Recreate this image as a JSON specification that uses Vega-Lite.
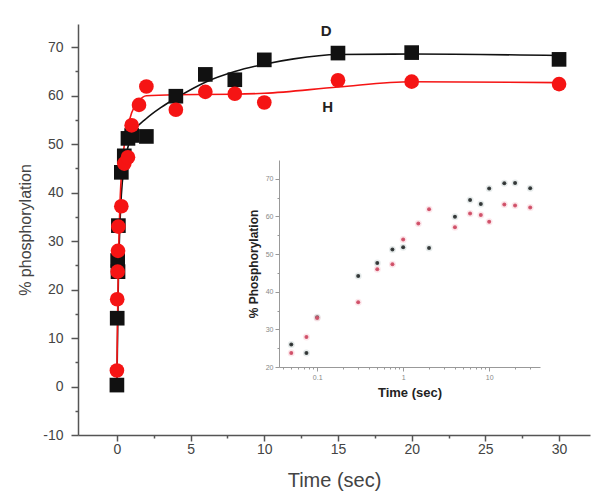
{
  "$schema": "https://vega.github.io/schema/vega-lite/v6.json",
  "width": 512,
  "height": 411,
  "autosize": {"type": "none"},
  "padding": {"left": 78, "top": 24, "right": 11, "bottom": 66},
  "background": "white",
  "config": {
    "view": {"stroke": null},
    "font": "Liberation Sans",
    "axis": {"grid": false}
  },
  "datasets": {
    "points": [
      {"series": "D", "t": 0, "v": 0.3},
      {"series": "D", "t": 0.02, "v": 14.1},
      {"series": "D", "t": 0.05, "v": 26.0},
      {"series": "D", "t": 0.075, "v": 23.7},
      {"series": "D", "t": 0.1, "v": 33.2},
      {"series": "D", "t": 0.3, "v": 44.2},
      {"series": "D", "t": 0.5, "v": 47.6},
      {"series": "D", "t": 0.75, "v": 51.2},
      {"series": "D", "t": 1, "v": 51.8},
      {"series": "D", "t": 2, "v": 51.6},
      {"series": "D", "t": 4, "v": 59.9},
      {"series": "D", "t": 6, "v": 64.4},
      {"series": "D", "t": 8, "v": 63.3},
      {"series": "D", "t": 10, "v": 67.4},
      {"series": "D", "t": 15, "v": 68.8},
      {"series": "D", "t": 20, "v": 68.9},
      {"series": "D", "t": 30, "v": 67.5},
      {"series": "H", "t": 0, "v": 3.3},
      {"series": "H", "t": 0.02, "v": 18.0},
      {"series": "H", "t": 0.05, "v": 23.7},
      {"series": "H", "t": 0.075, "v": 28.0},
      {"series": "H", "t": 0.1, "v": 33.0},
      {"series": "H", "t": 0.3, "v": 37.2},
      {"series": "H", "t": 0.5, "v": 46.0},
      {"series": "H", "t": 0.75, "v": 47.3},
      {"series": "H", "t": 1, "v": 53.9},
      {"series": "H", "t": 1.5, "v": 58.1},
      {"series": "H", "t": 2, "v": 61.9},
      {"series": "H", "t": 4, "v": 57.1},
      {"series": "H", "t": 6, "v": 60.8},
      {"series": "H", "t": 8, "v": 60.4},
      {"series": "H", "t": 10, "v": 58.6},
      {"series": "H", "t": 15, "v": 63.2},
      {"series": "H", "t": 20, "v": 62.9},
      {"series": "H", "t": 30, "v": 62.4}
    ],
    "fit": [
      {"series": "D", "t": 0, "v": 0},
      {"series": "D", "t": 0.05, "v": 12},
      {"series": "D", "t": 0.1, "v": 22},
      {"series": "D", "t": 0.2, "v": 33},
      {"series": "D", "t": 0.3, "v": 39.5},
      {"series": "D", "t": 0.5, "v": 45.5},
      {"series": "D", "t": 0.8, "v": 50},
      {"series": "D", "t": 1.2, "v": 52.8},
      {"series": "D", "t": 2, "v": 55.3},
      {"series": "D", "t": 3, "v": 57.6},
      {"series": "D", "t": 4, "v": 59.5},
      {"series": "D", "t": 6, "v": 62.8},
      {"series": "D", "t": 8, "v": 65},
      {"series": "D", "t": 10, "v": 66.5},
      {"series": "D", "t": 12, "v": 67.6},
      {"series": "D", "t": 15, "v": 68.5},
      {"series": "D", "t": 20, "v": 68.6},
      {"series": "D", "t": 30, "v": 68.3},
      {"series": "H", "t": 0, "v": 3},
      {"series": "H", "t": 0.05, "v": 15},
      {"series": "H", "t": 0.1, "v": 25},
      {"series": "H", "t": 0.2, "v": 37},
      {"series": "H", "t": 0.4, "v": 47},
      {"series": "H", "t": 0.7, "v": 53},
      {"series": "H", "t": 1, "v": 56.5},
      {"series": "H", "t": 1.5, "v": 59},
      {"series": "H", "t": 2, "v": 60},
      {"series": "H", "t": 4, "v": 60.2},
      {"series": "H", "t": 8, "v": 60.3},
      {"series": "H", "t": 10, "v": 60.5},
      {"series": "H", "t": 15, "v": 61.8},
      {"series": "H", "t": 20, "v": 62.9},
      {"series": "H", "t": 30, "v": 62.7}
    ],
    "labels": [
      {"label": "D", "t": 14.2, "v": 73.4},
      {"label": "H", "t": 14.3, "v": 57.6}
    ]
  },
  "layer": [
    {
      "encoding": {
        "x": {
          "field": "t", "type": "quantitative",
          "scale": {"domain": [-2.64, 32.1], "nice": false, "zero": false},
          "axis": {
            "orient": "bottom",
            "title": "Time (sec)",
            "values": [0, 2.5, 5, 7.5, 10, 12.5, 15, 17.5, 20, 22.5, 25, 27.5, 30],
            "labelExpr": "datum.value % 5 === 0 ? toString(datum.value) : ''",
            "tickSize": {"condition": {"test": "datum.value % 5 === 0", "value": 6}, "value": 3},
            "labelFontSize": 14, "labelColor": "#444", "labelPadding": 1,
            "titleFontSize": 20, "titleColor": "#444", "titleFontWeight": "normal", "titlePadding": 14,
            "domainColor": "#555", "tickColor": "#555", "domainWidth": 1.5, "tickWidth": 1.5
          }
        },
        "y": {
          "field": "v", "type": "quantitative",
          "scale": {"domain": [-10, 74.8], "nice": false, "zero": false},
          "axis": {
            "orient": "left",
            "title": "% phosphorylation",
            "values": [-10, -5, 0, 5, 10, 15, 20, 25, 30, 35, 40, 45, 50, 55, 60, 65, 70],
            "labelExpr": "datum.value % 10 === 0 ? toString(datum.value) : ''",
            "tickSize": {"condition": {"test": "datum.value % 10 === 0", "value": 7}, "value": 3},
            "labelFontSize": 14, "labelColor": "#444", "labelPadding": 8,
            "titleFontSize": 16, "titleColor": "#444", "titleFontWeight": "normal", "titlePadding": 9,
            "domainColor": "#555", "tickColor": "#555", "domainWidth": 1.5, "tickWidth": 1.5
          }
        }
      },
      "layer": [
        {
          "data": {"name": "fit"},
          "mark": {"type": "line", "strokeWidth": 1.6, "interpolate": "monotone"},
          "encoding": {
            "detail": {"field": "series"},
            "color": {"field": "series", "type": "nominal", "scale": {"domain": ["D", "H"], "range": ["#111111", "#f51414"]}, "legend": null}
          }
        },
        {
          "data": {"name": "points"},
          "mark": {"type": "point", "filled": true, "opacity": 1, "size": 215},
          "encoding": {
            "color": {"field": "series", "type": "nominal", "legend": null},
            "shape": {"field": "series", "type": "nominal", "scale": {"domain": ["D", "H"], "range": ["square", "circle"]}, "legend": null}
          }
        },
        {
          "data": {"name": "labels"},
          "mark": {"type": "text", "fontSize": 15, "fontWeight": "bold", "color": "#222", "baseline": "middle", "align": "center"},
          "encoding": {"text": {"field": "label"}}
        }
      ]
    },
    {
      "data": {"name": "points"},
      "transform": [{"filter": "datum.t > 0.03"}],
      "mark": {"type": "point", "filled": true, "size": 16, "opacity": 1, "strokeWidth": 3, "strokeOpacity": 0.25},
      "encoding": {
        "x": {
          "field": "t", "type": "quantitative",
          "scale": {"type": "log", "domain": [0.036, 39], "range": [201, 462], "nice": false},
          "axis": {
            "orient": "bottom", "offset": -68,
            "title": "Time (sec)",
            "values": [0.04, 0.05, 0.06, 0.07, 0.08, 0.09, 0.1, 0.2, 0.3, 0.4, 0.5, 0.6, 0.7, 0.8, 0.9, 1, 2, 3, 4, 5, 6, 7, 8, 9, 10, 20, 30],
            "labelExpr": "datum.value == 0.1 ? '0.1' : datum.value == 1 ? '1' : datum.value == 10 ? '10' : ''",
            "tickSize": {"condition": {"test": "datum.value == 0.1 || datum.value == 1 || datum.value == 10", "value": 4}, "value": 2},
            "labelFontSize": 7, "labelColor": "#888", "labelPadding": 2,
            "titleFontSize": 13, "titleColor": "#222", "titleFontWeight": "bold", "titlePadding": 6,
            "domainColor": "#999", "tickColor": "#999", "domainWidth": 1, "tickWidth": 1
          }
        },
        "y": {
          "field": "v", "type": "quantitative",
          "scale": {"domain": [20, 75], "range": [343, 136], "nice": false, "zero": false},
          "axis": {
            "orient": "left", "offset": -201,
            "title": "% Phosphorylation",
            "values": [20, 25, 30, 35, 40, 45, 50, 55, 60, 65, 70],
            "labelExpr": "datum.value % 10 === 0 ? datum.label : ''",
            "tickSize": {"condition": {"test": "datum.value % 10 === 0", "value": 4}, "value": 2},
            "labelFontSize": 7, "labelColor": "#888", "labelPadding": 2,
            "titleFontSize": 12, "titleColor": "#222", "titleFontWeight": "bold", "titlePadding": 5,
            "domainColor": "#999", "tickColor": "#999", "domainWidth": 1, "tickWidth": 1
          }
        },
        "color": {"field": "series", "type": "nominal", "scale": {"domain": ["D", "H"], "range": ["#1a1a1a", "#c8405a"]}, "legend": null},
        "stroke": {"field": "series", "type": "nominal", "scale": {"domain": ["D", "H"], "range": ["#9ab0b0", "#f3a0b0"]}, "legend": null}
      }
    }
  ],
  "resolve": {
    "scale": {"x": "independent", "y": "independent", "color": "independent", "shape": "independent", "stroke": "independent"},
    "axis": {"x": "independent", "y": "independent"}
  }
}
